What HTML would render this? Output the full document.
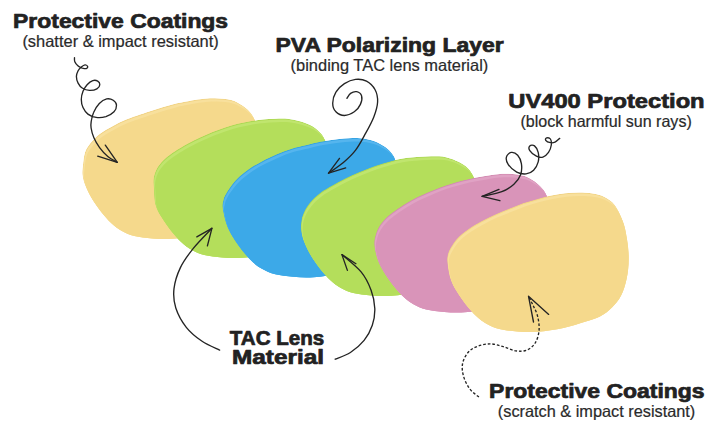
<!DOCTYPE html>
<html><head><meta charset="utf-8"><title>Lens layers</title>
<style>
html,body{margin:0;padding:0;background:#fff;}
body{width:720px;height:428px;overflow:hidden;position:relative;font-family:"Liberation Sans",sans-serif;}
svg{position:absolute;left:0;top:0;}
text{font-family:"Liberation Sans",sans-serif;}
.h{font-weight:bold;fill:#222;stroke:#222;stroke-width:0.7px;stroke-linejoin:round;}
.s{font-weight:normal;fill:#2a2a2a;stroke:#2a2a2a;stroke-width:0.2px;}
.a{fill:none;stroke:#242424;stroke-width:1.35;stroke-linecap:round;stroke-linejoin:round;}
.d{stroke-dasharray:2.7 1.9;stroke-linecap:butt;}
</style></head><body>
<svg width="720" height="428" viewBox="0 0 720 428">
<g id="lenses">
<defs><clipPath id="c0"><path d="M82.5,175.0 C82.1,171.5 82.6,168.8 83.0,165.0 C83.4,161.2 83.8,156.0 85.0,152.5 C86.2,149.0 87.5,146.9 90.0,143.8 C92.5,140.7 96.2,136.7 100.0,133.8 C103.8,130.9 108.3,128.6 112.5,126.3 C116.7,124.0 118.8,122.5 125.0,120.0 C131.2,117.5 141.7,114.0 150.0,111.3 C158.3,108.6 166.7,105.8 175.0,103.8 C183.3,101.8 193.3,100.1 200.0,99.2 C206.7,98.3 209.8,98.1 215.0,98.2 C220.2,98.3 226.6,98.8 231.2,100.0 C235.8,101.2 239.1,103.4 242.4,105.6 C245.7,107.8 248.7,110.5 250.8,113.0 C252.9,115.5 253.9,118.0 255.1,120.5 C256.3,123.0 256.6,123.8 257.8,128.1 C258.9,132.4 261.0,139.9 262.0,146.2 C263.0,152.5 263.8,159.3 263.7,165.9 C263.7,172.4 263.0,179.4 261.7,185.5 C260.4,191.6 258.6,197.7 256.1,202.5 C253.7,207.3 250.5,211.0 247.0,214.5 C243.5,218.0 239.5,221.1 235.0,223.5 C230.5,225.9 226.1,226.9 220.0,228.8 C213.9,230.7 206.3,233.3 198.4,235.0 C190.5,236.7 180.4,238.2 172.7,238.8 C165.0,239.4 158.6,238.9 152.2,238.4 C145.8,237.9 139.3,237.2 134.2,235.9 C129.1,234.6 125.2,232.8 121.4,230.7 C117.5,228.5 114.5,226.2 111.1,223.0 C107.7,219.8 104.0,215.6 100.8,211.5 C97.6,207.4 94.4,202.9 91.8,198.6 C89.2,194.3 86.9,189.7 85.4,185.8 C83.8,181.9 82.9,178.5 82.5,175.0Z"/></clipPath><clipPath id="c1"><path d="M153.8,187.5 C153.5,182.9 153.2,180.8 153.8,177.5 C154.4,174.2 155.6,170.6 157.5,167.5 C159.4,164.4 162.1,161.5 165.0,158.8 C167.9,156.1 171.2,153.8 175.0,151.3 C178.8,148.8 183.3,146.1 187.5,143.8 C191.7,141.5 195.8,139.5 200.0,137.5 C204.2,135.5 208.3,133.7 212.5,132.0 C216.7,130.3 220.8,128.9 225.0,127.5 C229.2,126.1 233.3,124.8 237.5,123.8 C241.7,122.8 245.8,122.0 250.0,121.3 C254.2,120.6 258.3,119.9 262.5,119.5 C266.7,119.1 270.8,118.9 275.0,118.8 C279.2,118.7 283.3,118.4 287.5,118.8 C291.7,119.2 295.8,120.0 300.0,121.3 C304.2,122.5 308.9,124.2 312.5,126.3 C316.1,128.4 319.2,131.5 321.3,133.8 C323.4,136.1 323.9,137.8 325.0,140.0 C326.1,142.2 326.6,142.9 327.8,147.1 C329.0,151.3 331.0,158.9 332.0,165.2 C333.0,171.5 333.8,178.3 333.7,184.9 C333.7,191.4 333.0,198.4 331.7,204.5 C330.4,210.6 328.6,216.7 326.1,221.5 C323.7,226.3 320.5,230.0 317.0,233.5 C313.5,237.0 309.5,240.1 305.0,242.5 C300.5,244.9 296.1,245.9 290.0,247.8 C283.9,249.7 276.3,252.3 268.4,254.0 C260.5,255.7 250.4,257.2 242.7,257.8 C235.0,258.4 228.6,257.9 222.2,257.4 C215.8,256.9 209.3,256.2 204.2,254.9 C199.1,253.6 195.2,251.8 191.4,249.7 C187.5,247.5 184.5,245.2 181.1,242.0 C177.7,238.8 174.0,234.6 170.8,230.5 C167.6,226.4 164.4,221.9 161.8,217.6 C159.2,213.3 156.7,209.8 155.4,204.8 C154.1,199.8 154.1,192.1 153.8,187.5Z"/></clipPath><clipPath id="c2"><path d="M222.6,208.0 C222.1,204.1 222.8,203.0 223.2,201.0 C223.6,199.0 223.8,198.0 224.8,196.0 C225.8,194.0 226.9,191.8 229.0,188.9 C231.1,186.0 234.1,181.9 237.4,178.6 C240.7,175.3 244.6,172.2 248.6,169.3 C252.6,166.4 257.0,163.9 261.7,161.4 C266.4,158.9 271.7,156.4 276.7,154.3 C281.7,152.2 286.6,150.2 291.6,148.7 C296.6,147.1 301.6,146.2 306.6,145.0 C311.6,143.8 316.8,142.5 321.5,141.6 C326.2,140.7 329.8,140.1 335.0,139.5 C340.2,138.9 347.5,138.1 352.5,138.0 C357.5,137.9 360.8,138.1 365.0,138.8 C369.2,139.6 373.8,140.8 377.5,142.5 C381.2,144.2 384.8,146.5 387.5,148.8 C390.2,151.1 392.5,154.2 393.8,156.3 C395.1,158.4 394.7,159.6 395.5,161.3 C396.3,163.0 397.5,162.6 398.8,166.5 C400.0,170.4 402.0,178.3 403.0,184.6 C404.0,190.9 404.8,197.7 404.7,204.3 C404.7,210.8 404.0,217.8 402.7,223.9 C401.4,230.0 399.6,236.1 397.1,240.9 C394.7,245.7 391.5,249.4 388.0,252.9 C384.5,256.4 380.5,259.5 376.0,261.9 C371.5,264.3 367.1,265.3 361.0,267.2 C354.9,269.1 347.3,271.7 339.4,273.4 C331.5,275.1 321.4,276.6 313.7,277.2 C306.0,277.8 299.6,277.3 293.2,276.8 C286.8,276.3 280.3,275.6 275.2,274.3 C270.1,273.0 266.2,271.2 262.4,269.1 C258.5,266.9 255.5,264.6 252.1,261.4 C248.7,258.2 245.0,254.0 241.8,249.9 C238.6,245.8 235.4,241.3 232.8,237.0 C230.2,232.7 228.1,229.0 226.4,224.2 C224.7,219.4 223.1,211.9 222.6,208.0Z"/></clipPath><clipPath id="c3"><path d="M301.3,232.0 C300.8,228.4 300.9,224.6 301.3,221.3 C301.7,218.1 302.4,215.6 303.8,212.5 C305.2,209.4 307.3,205.8 310.0,202.5 C312.7,199.2 316.2,195.9 320.0,193.0 C323.8,190.1 328.3,187.7 332.5,185.3 C336.7,182.9 340.8,180.6 345.0,178.5 C349.2,176.4 353.3,174.6 357.5,172.8 C361.7,171.0 365.8,169.3 370.0,167.8 C374.2,166.3 378.3,164.9 382.5,163.6 C386.7,162.3 390.8,161.0 395.0,160.0 C399.2,159.0 403.3,158.3 407.5,157.8 C411.7,157.3 415.8,157.1 420.0,156.8 C424.2,156.6 428.2,156.2 432.5,156.3 C436.8,156.4 441.6,156.2 446.0,157.2 C450.4,158.1 455.3,160.2 459.0,162.0 C462.7,163.8 465.8,166.1 468.0,168.2 C470.2,170.3 471.0,171.7 472.5,174.5 C474.0,177.3 475.4,180.3 476.8,185.1 C478.2,189.9 480.0,196.9 481.0,203.2 C482.0,209.5 482.8,216.3 482.7,222.9 C482.7,229.4 482.0,236.4 480.7,242.5 C479.4,248.6 477.6,254.7 475.1,259.5 C472.7,264.3 469.5,268.0 466.0,271.5 C462.5,275.0 458.5,278.1 454.0,280.5 C449.5,282.9 445.1,283.9 439.0,285.8 C432.9,287.7 425.3,290.3 417.4,292.0 C409.5,293.7 399.4,295.2 391.7,295.8 C384.0,296.4 377.6,295.9 371.2,295.4 C364.8,294.9 358.3,294.2 353.2,292.9 C348.1,291.6 344.2,289.8 340.4,287.7 C336.5,285.6 333.5,283.2 330.1,280.0 C326.7,276.8 323.0,272.6 319.8,268.5 C316.6,264.4 313.4,259.9 310.8,255.6 C308.2,251.3 306.0,246.7 304.4,242.8 C302.8,238.9 301.8,235.6 301.3,232.0Z"/></clipPath><clipPath id="c4"><path d="M374.3,245.0 C374.0,241.1 374.5,239.1 375.3,236.0 C376.1,232.9 377.3,229.6 379.0,226.7 C380.7,223.8 383.0,221.0 385.6,218.3 C388.2,215.7 391.5,213.3 394.9,210.8 C398.3,208.3 402.4,205.6 406.1,203.3 C409.8,201.0 413.6,199.0 417.3,197.1 C421.1,195.2 424.9,193.7 428.6,192.1 C432.4,190.5 436.1,188.8 439.8,187.4 C443.5,186.0 447.3,184.8 451.0,183.7 C454.7,182.5 458.5,181.4 462.2,180.5 C465.9,179.6 469.6,178.8 473.4,178.1 C477.2,177.3 480.9,176.7 485.0,176.0 C489.1,175.3 494.1,174.6 497.8,174.2 C501.6,173.8 504.2,173.7 507.5,173.8 C510.8,173.9 514.0,174.1 517.3,174.6 C520.5,175.1 523.8,175.7 527.0,177.1 C530.2,178.5 534.0,180.8 536.7,182.9 C539.5,185.0 541.9,187.6 543.5,189.7 C545.1,191.8 545.5,193.2 546.5,195.2 C547.5,197.2 548.5,197.5 549.8,201.6 C551.0,205.7 553.0,213.4 554.0,219.7 C555.0,226.0 555.8,232.8 555.7,239.4 C555.7,245.9 555.0,252.9 553.7,259.0 C552.4,265.1 550.6,271.2 548.1,276.0 C545.6,280.8 542.5,284.5 539.0,288.0 C535.5,291.5 531.5,294.6 527.0,297.0 C522.5,299.4 518.1,300.4 512.0,302.3 C505.9,304.2 498.3,306.8 490.4,308.5 C482.5,310.2 472.4,311.7 464.7,312.3 C457.0,312.9 450.6,312.4 444.2,311.9 C437.8,311.4 431.3,310.7 426.2,309.4 C421.1,308.1 417.2,306.3 413.4,304.2 C409.5,302.1 406.5,299.7 403.1,296.5 C399.7,293.3 396.0,289.1 392.8,285.0 C389.6,280.9 386.4,276.4 383.8,272.1 C381.2,267.8 379.0,263.8 377.4,259.3 C375.8,254.8 374.6,248.9 374.3,245.0Z"/></clipPath><clipPath id="c5"><path d="M447.3,262.0 C446.9,257.7 447.4,255.8 448.2,253.0 C449.0,250.2 450.4,248.1 452.0,245.5 C453.6,242.9 455.4,240.2 458.0,237.5 C460.6,234.8 463.9,232.1 467.8,229.4 C471.8,226.7 477.1,223.6 481.7,221.1 C486.3,218.6 491.0,216.3 495.6,214.2 C500.2,212.1 504.8,210.4 509.4,208.6 C514.0,206.8 518.7,204.7 523.3,203.1 C527.9,201.5 532.6,200.2 537.2,198.9 C541.8,197.7 546.5,196.5 551.1,195.6 C555.7,194.7 560.4,193.8 565.0,193.3 C569.6,192.8 574.3,192.6 578.9,192.6 C583.5,192.6 588.6,192.9 592.8,193.6 C597.0,194.3 600.4,194.9 604.0,196.8 C607.6,198.7 611.5,200.8 614.6,204.8 C617.7,208.9 620.7,215.4 622.8,221.1 C624.9,226.8 626.0,232.9 627.0,239.2 C628.0,245.5 628.8,252.3 628.7,258.9 C628.7,265.4 628.0,272.4 626.7,278.5 C625.4,284.6 623.6,290.7 621.1,295.5 C618.6,300.3 615.5,304.0 612.0,307.5 C608.5,311.0 604.5,314.1 600.0,316.5 C595.5,318.9 591.1,319.9 585.0,321.8 C578.9,323.7 571.3,326.3 563.4,328.0 C555.5,329.7 545.4,331.2 537.7,331.8 C530.0,332.4 523.6,331.9 517.2,331.4 C510.8,330.9 504.3,330.2 499.2,328.9 C494.1,327.6 490.2,325.8 486.4,323.7 C482.5,321.6 479.5,319.2 476.1,316.0 C472.7,312.8 469.0,308.6 465.8,304.5 C462.6,300.4 459.4,295.9 456.8,291.6 C454.2,287.3 452.0,283.7 450.4,278.8 C448.8,273.9 447.7,266.3 447.3,262.0Z"/></clipPath></defs>
<g clip-path="url(#c0)"><path d="M82.5,175.0 C82.1,171.5 82.6,168.8 83.0,165.0 C83.4,161.2 83.8,156.0 85.0,152.5 C86.2,149.0 87.5,146.9 90.0,143.8 C92.5,140.7 96.2,136.7 100.0,133.8 C103.8,130.9 108.3,128.6 112.5,126.3 C116.7,124.0 118.8,122.5 125.0,120.0 C131.2,117.5 141.7,114.0 150.0,111.3 C158.3,108.6 166.7,105.8 175.0,103.8 C183.3,101.8 193.3,100.1 200.0,99.2 C206.7,98.3 209.8,98.1 215.0,98.2 C220.2,98.3 226.6,98.8 231.2,100.0 C235.8,101.2 239.1,103.4 242.4,105.6 C245.7,107.8 248.7,110.5 250.8,113.0 C252.9,115.5 253.9,118.0 255.1,120.5 C256.3,123.0 256.6,123.8 257.8,128.1 C258.9,132.4 261.0,139.9 262.0,146.2 C263.0,152.5 263.8,159.3 263.7,165.9 C263.7,172.4 263.0,179.4 261.7,185.5 C260.4,191.6 258.6,197.7 256.1,202.5 C253.7,207.3 250.5,211.0 247.0,214.5 C243.5,218.0 239.5,221.1 235.0,223.5 C230.5,225.9 226.1,226.9 220.0,228.8 C213.9,230.7 206.3,233.3 198.4,235.0 C190.5,236.7 180.4,238.2 172.7,238.8 C165.0,239.4 158.6,238.9 152.2,238.4 C145.8,237.9 139.3,237.2 134.2,235.9 C129.1,234.6 125.2,232.8 121.4,230.7 C117.5,228.5 114.5,226.2 111.1,223.0 C107.7,219.8 104.0,215.6 100.8,211.5 C97.6,207.4 94.4,202.9 91.8,198.6 C89.2,194.3 86.9,189.7 85.4,185.8 C83.8,181.9 82.9,178.5 82.5,175.0Z" fill="#F1D385"/><path d="M82.5,175.0 C82.1,171.5 82.6,168.8 83.0,165.0 C83.4,161.2 83.8,156.0 85.0,152.5 C86.2,149.0 87.5,146.9 90.0,143.8 C92.5,140.7 96.2,136.7 100.0,133.8 C103.8,130.9 108.3,128.6 112.5,126.3 C116.7,124.0 118.8,122.5 125.0,120.0 C131.2,117.5 141.7,114.0 150.0,111.3 C158.3,108.6 166.7,105.8 175.0,103.8 C183.3,101.8 193.3,100.1 200.0,99.2 C206.7,98.3 209.8,98.1 215.0,98.2 C220.2,98.3 226.6,98.8 231.2,100.0 C235.8,101.2 239.1,103.4 242.4,105.6 C245.7,107.8 248.7,110.5 250.8,113.0 C252.9,115.5 253.9,118.0 255.1,120.5 C256.3,123.0 256.6,123.8 257.8,128.1 C258.9,132.4 261.0,139.9 262.0,146.2 C263.0,152.5 263.8,159.3 263.7,165.9 C263.7,172.4 263.0,179.4 261.7,185.5 C260.4,191.6 258.6,197.7 256.1,202.5 C253.7,207.3 250.5,211.0 247.0,214.5 C243.5,218.0 239.5,221.1 235.0,223.5 C230.5,225.9 226.1,226.9 220.0,228.8 C213.9,230.7 206.3,233.3 198.4,235.0 C190.5,236.7 180.4,238.2 172.7,238.8 C165.0,239.4 158.6,238.9 152.2,238.4 C145.8,237.9 139.3,237.2 134.2,235.9 C129.1,234.6 125.2,232.8 121.4,230.7 C117.5,228.5 114.5,226.2 111.1,223.0 C107.7,219.8 104.0,215.6 100.8,211.5 C97.6,207.4 94.4,202.9 91.8,198.6 C89.2,194.3 86.9,189.7 85.4,185.8 C83.8,181.9 82.9,178.5 82.5,175.0Z" fill="#F8E09C" transform="translate(0.5,1.0)"/><path d="M82.5,175.0 C82.1,171.5 82.6,168.8 83.0,165.0 C83.4,161.2 83.8,156.0 85.0,152.5 C86.2,149.0 87.5,146.9 90.0,143.8 C92.5,140.7 96.2,136.7 100.0,133.8 C103.8,130.9 108.3,128.6 112.5,126.3 C116.7,124.0 118.8,122.5 125.0,120.0 C131.2,117.5 141.7,114.0 150.0,111.3 C158.3,108.6 166.7,105.8 175.0,103.8 C183.3,101.8 193.3,100.1 200.0,99.2 C206.7,98.3 209.8,98.1 215.0,98.2 C220.2,98.3 226.6,98.8 231.2,100.0 C235.8,101.2 239.1,103.4 242.4,105.6 C245.7,107.8 248.7,110.5 250.8,113.0 C252.9,115.5 253.9,118.0 255.1,120.5 C256.3,123.0 256.6,123.8 257.8,128.1 C258.9,132.4 261.0,139.9 262.0,146.2 C263.0,152.5 263.8,159.3 263.7,165.9 C263.7,172.4 263.0,179.4 261.7,185.5 C260.4,191.6 258.6,197.7 256.1,202.5 C253.7,207.3 250.5,211.0 247.0,214.5 C243.5,218.0 239.5,221.1 235.0,223.5 C230.5,225.9 226.1,226.9 220.0,228.8 C213.9,230.7 206.3,233.3 198.4,235.0 C190.5,236.7 180.4,238.2 172.7,238.8 C165.0,239.4 158.6,238.9 152.2,238.4 C145.8,237.9 139.3,237.2 134.2,235.9 C129.1,234.6 125.2,232.8 121.4,230.7 C117.5,228.5 114.5,226.2 111.1,223.0 C107.7,219.8 104.0,215.6 100.8,211.5 C97.6,207.4 94.4,202.9 91.8,198.6 C89.2,194.3 86.9,189.7 85.4,185.8 C83.8,181.9 82.9,178.5 82.5,175.0Z" fill="#F5D98C" transform="translate(1.6,3.4)"/></g>
<g clip-path="url(#c1)"><path d="M153.8,187.5 C153.5,182.9 153.2,180.8 153.8,177.5 C154.4,174.2 155.6,170.6 157.5,167.5 C159.4,164.4 162.1,161.5 165.0,158.8 C167.9,156.1 171.2,153.8 175.0,151.3 C178.8,148.8 183.3,146.1 187.5,143.8 C191.7,141.5 195.8,139.5 200.0,137.5 C204.2,135.5 208.3,133.7 212.5,132.0 C216.7,130.3 220.8,128.9 225.0,127.5 C229.2,126.1 233.3,124.8 237.5,123.8 C241.7,122.8 245.8,122.0 250.0,121.3 C254.2,120.6 258.3,119.9 262.5,119.5 C266.7,119.1 270.8,118.9 275.0,118.8 C279.2,118.7 283.3,118.4 287.5,118.8 C291.7,119.2 295.8,120.0 300.0,121.3 C304.2,122.5 308.9,124.2 312.5,126.3 C316.1,128.4 319.2,131.5 321.3,133.8 C323.4,136.1 323.9,137.8 325.0,140.0 C326.1,142.2 326.6,142.9 327.8,147.1 C329.0,151.3 331.0,158.9 332.0,165.2 C333.0,171.5 333.8,178.3 333.7,184.9 C333.7,191.4 333.0,198.4 331.7,204.5 C330.4,210.6 328.6,216.7 326.1,221.5 C323.7,226.3 320.5,230.0 317.0,233.5 C313.5,237.0 309.5,240.1 305.0,242.5 C300.5,244.9 296.1,245.9 290.0,247.8 C283.9,249.7 276.3,252.3 268.4,254.0 C260.5,255.7 250.4,257.2 242.7,257.8 C235.0,258.4 228.6,257.9 222.2,257.4 C215.8,256.9 209.3,256.2 204.2,254.9 C199.1,253.6 195.2,251.8 191.4,249.7 C187.5,247.5 184.5,245.2 181.1,242.0 C177.7,238.8 174.0,234.6 170.8,230.5 C167.6,226.4 164.4,221.9 161.8,217.6 C159.2,213.3 156.7,209.8 155.4,204.8 C154.1,199.8 154.1,192.1 153.8,187.5Z" fill="#ACD854"/><path d="M153.8,187.5 C153.5,182.9 153.2,180.8 153.8,177.5 C154.4,174.2 155.6,170.6 157.5,167.5 C159.4,164.4 162.1,161.5 165.0,158.8 C167.9,156.1 171.2,153.8 175.0,151.3 C178.8,148.8 183.3,146.1 187.5,143.8 C191.7,141.5 195.8,139.5 200.0,137.5 C204.2,135.5 208.3,133.7 212.5,132.0 C216.7,130.3 220.8,128.9 225.0,127.5 C229.2,126.1 233.3,124.8 237.5,123.8 C241.7,122.8 245.8,122.0 250.0,121.3 C254.2,120.6 258.3,119.9 262.5,119.5 C266.7,119.1 270.8,118.9 275.0,118.8 C279.2,118.7 283.3,118.4 287.5,118.8 C291.7,119.2 295.8,120.0 300.0,121.3 C304.2,122.5 308.9,124.2 312.5,126.3 C316.1,128.4 319.2,131.5 321.3,133.8 C323.4,136.1 323.9,137.8 325.0,140.0 C326.1,142.2 326.6,142.9 327.8,147.1 C329.0,151.3 331.0,158.9 332.0,165.2 C333.0,171.5 333.8,178.3 333.7,184.9 C333.7,191.4 333.0,198.4 331.7,204.5 C330.4,210.6 328.6,216.7 326.1,221.5 C323.7,226.3 320.5,230.0 317.0,233.5 C313.5,237.0 309.5,240.1 305.0,242.5 C300.5,244.9 296.1,245.9 290.0,247.8 C283.9,249.7 276.3,252.3 268.4,254.0 C260.5,255.7 250.4,257.2 242.7,257.8 C235.0,258.4 228.6,257.9 222.2,257.4 C215.8,256.9 209.3,256.2 204.2,254.9 C199.1,253.6 195.2,251.8 191.4,249.7 C187.5,247.5 184.5,245.2 181.1,242.0 C177.7,238.8 174.0,234.6 170.8,230.5 C167.6,226.4 164.4,221.9 161.8,217.6 C159.2,213.3 156.7,209.8 155.4,204.8 C154.1,199.8 154.1,192.1 153.8,187.5Z" fill="#C0E56E" transform="translate(0.5,1.0)"/><path d="M153.8,187.5 C153.5,182.9 153.2,180.8 153.8,177.5 C154.4,174.2 155.6,170.6 157.5,167.5 C159.4,164.4 162.1,161.5 165.0,158.8 C167.9,156.1 171.2,153.8 175.0,151.3 C178.8,148.8 183.3,146.1 187.5,143.8 C191.7,141.5 195.8,139.5 200.0,137.5 C204.2,135.5 208.3,133.7 212.5,132.0 C216.7,130.3 220.8,128.9 225.0,127.5 C229.2,126.1 233.3,124.8 237.5,123.8 C241.7,122.8 245.8,122.0 250.0,121.3 C254.2,120.6 258.3,119.9 262.5,119.5 C266.7,119.1 270.8,118.9 275.0,118.8 C279.2,118.7 283.3,118.4 287.5,118.8 C291.7,119.2 295.8,120.0 300.0,121.3 C304.2,122.5 308.9,124.2 312.5,126.3 C316.1,128.4 319.2,131.5 321.3,133.8 C323.4,136.1 323.9,137.8 325.0,140.0 C326.1,142.2 326.6,142.9 327.8,147.1 C329.0,151.3 331.0,158.9 332.0,165.2 C333.0,171.5 333.8,178.3 333.7,184.9 C333.7,191.4 333.0,198.4 331.7,204.5 C330.4,210.6 328.6,216.7 326.1,221.5 C323.7,226.3 320.5,230.0 317.0,233.5 C313.5,237.0 309.5,240.1 305.0,242.5 C300.5,244.9 296.1,245.9 290.0,247.8 C283.9,249.7 276.3,252.3 268.4,254.0 C260.5,255.7 250.4,257.2 242.7,257.8 C235.0,258.4 228.6,257.9 222.2,257.4 C215.8,256.9 209.3,256.2 204.2,254.9 C199.1,253.6 195.2,251.8 191.4,249.7 C187.5,247.5 184.5,245.2 181.1,242.0 C177.7,238.8 174.0,234.6 170.8,230.5 C167.6,226.4 164.4,221.9 161.8,217.6 C159.2,213.3 156.7,209.8 155.4,204.8 C154.1,199.8 154.1,192.1 153.8,187.5Z" fill="#B4DE5B" transform="translate(1.6,3.4)"/></g>
<g clip-path="url(#c2)"><path d="M222.6,208.0 C222.1,204.1 222.8,203.0 223.2,201.0 C223.6,199.0 223.8,198.0 224.8,196.0 C225.8,194.0 226.9,191.8 229.0,188.9 C231.1,186.0 234.1,181.9 237.4,178.6 C240.7,175.3 244.6,172.2 248.6,169.3 C252.6,166.4 257.0,163.9 261.7,161.4 C266.4,158.9 271.7,156.4 276.7,154.3 C281.7,152.2 286.6,150.2 291.6,148.7 C296.6,147.1 301.6,146.2 306.6,145.0 C311.6,143.8 316.8,142.5 321.5,141.6 C326.2,140.7 329.8,140.1 335.0,139.5 C340.2,138.9 347.5,138.1 352.5,138.0 C357.5,137.9 360.8,138.1 365.0,138.8 C369.2,139.6 373.8,140.8 377.5,142.5 C381.2,144.2 384.8,146.5 387.5,148.8 C390.2,151.1 392.5,154.2 393.8,156.3 C395.1,158.4 394.7,159.6 395.5,161.3 C396.3,163.0 397.5,162.6 398.8,166.5 C400.0,170.4 402.0,178.3 403.0,184.6 C404.0,190.9 404.8,197.7 404.7,204.3 C404.7,210.8 404.0,217.8 402.7,223.9 C401.4,230.0 399.6,236.1 397.1,240.9 C394.7,245.7 391.5,249.4 388.0,252.9 C384.5,256.4 380.5,259.5 376.0,261.9 C371.5,264.3 367.1,265.3 361.0,267.2 C354.9,269.1 347.3,271.7 339.4,273.4 C331.5,275.1 321.4,276.6 313.7,277.2 C306.0,277.8 299.6,277.3 293.2,276.8 C286.8,276.3 280.3,275.6 275.2,274.3 C270.1,273.0 266.2,271.2 262.4,269.1 C258.5,266.9 255.5,264.6 252.1,261.4 C248.7,258.2 245.0,254.0 241.8,249.9 C238.6,245.8 235.4,241.3 232.8,237.0 C230.2,232.7 228.1,229.0 226.4,224.2 C224.7,219.4 223.1,211.9 222.6,208.0Z" fill="#36A3E3"/><path d="M222.6,208.0 C222.1,204.1 222.8,203.0 223.2,201.0 C223.6,199.0 223.8,198.0 224.8,196.0 C225.8,194.0 226.9,191.8 229.0,188.9 C231.1,186.0 234.1,181.9 237.4,178.6 C240.7,175.3 244.6,172.2 248.6,169.3 C252.6,166.4 257.0,163.9 261.7,161.4 C266.4,158.9 271.7,156.4 276.7,154.3 C281.7,152.2 286.6,150.2 291.6,148.7 C296.6,147.1 301.6,146.2 306.6,145.0 C311.6,143.8 316.8,142.5 321.5,141.6 C326.2,140.7 329.8,140.1 335.0,139.5 C340.2,138.9 347.5,138.1 352.5,138.0 C357.5,137.9 360.8,138.1 365.0,138.8 C369.2,139.6 373.8,140.8 377.5,142.5 C381.2,144.2 384.8,146.5 387.5,148.8 C390.2,151.1 392.5,154.2 393.8,156.3 C395.1,158.4 394.7,159.6 395.5,161.3 C396.3,163.0 397.5,162.6 398.8,166.5 C400.0,170.4 402.0,178.3 403.0,184.6 C404.0,190.9 404.8,197.7 404.7,204.3 C404.7,210.8 404.0,217.8 402.7,223.9 C401.4,230.0 399.6,236.1 397.1,240.9 C394.7,245.7 391.5,249.4 388.0,252.9 C384.5,256.4 380.5,259.5 376.0,261.9 C371.5,264.3 367.1,265.3 361.0,267.2 C354.9,269.1 347.3,271.7 339.4,273.4 C331.5,275.1 321.4,276.6 313.7,277.2 C306.0,277.8 299.6,277.3 293.2,276.8 C286.8,276.3 280.3,275.6 275.2,274.3 C270.1,273.0 266.2,271.2 262.4,269.1 C258.5,266.9 255.5,264.6 252.1,261.4 C248.7,258.2 245.0,254.0 241.8,249.9 C238.6,245.8 235.4,241.3 232.8,237.0 C230.2,232.7 228.1,229.0 226.4,224.2 C224.7,219.4 223.1,211.9 222.6,208.0Z" fill="#55B5EE" transform="translate(0.5,1.0)"/><path d="M222.6,208.0 C222.1,204.1 222.8,203.0 223.2,201.0 C223.6,199.0 223.8,198.0 224.8,196.0 C225.8,194.0 226.9,191.8 229.0,188.9 C231.1,186.0 234.1,181.9 237.4,178.6 C240.7,175.3 244.6,172.2 248.6,169.3 C252.6,166.4 257.0,163.9 261.7,161.4 C266.4,158.9 271.7,156.4 276.7,154.3 C281.7,152.2 286.6,150.2 291.6,148.7 C296.6,147.1 301.6,146.2 306.6,145.0 C311.6,143.8 316.8,142.5 321.5,141.6 C326.2,140.7 329.8,140.1 335.0,139.5 C340.2,138.9 347.5,138.1 352.5,138.0 C357.5,137.9 360.8,138.1 365.0,138.8 C369.2,139.6 373.8,140.8 377.5,142.5 C381.2,144.2 384.8,146.5 387.5,148.8 C390.2,151.1 392.5,154.2 393.8,156.3 C395.1,158.4 394.7,159.6 395.5,161.3 C396.3,163.0 397.5,162.6 398.8,166.5 C400.0,170.4 402.0,178.3 403.0,184.6 C404.0,190.9 404.8,197.7 404.7,204.3 C404.7,210.8 404.0,217.8 402.7,223.9 C401.4,230.0 399.6,236.1 397.1,240.9 C394.7,245.7 391.5,249.4 388.0,252.9 C384.5,256.4 380.5,259.5 376.0,261.9 C371.5,264.3 367.1,265.3 361.0,267.2 C354.9,269.1 347.3,271.7 339.4,273.4 C331.5,275.1 321.4,276.6 313.7,277.2 C306.0,277.8 299.6,277.3 293.2,276.8 C286.8,276.3 280.3,275.6 275.2,274.3 C270.1,273.0 266.2,271.2 262.4,269.1 C258.5,266.9 255.5,264.6 252.1,261.4 C248.7,258.2 245.0,254.0 241.8,249.9 C238.6,245.8 235.4,241.3 232.8,237.0 C230.2,232.7 228.1,229.0 226.4,224.2 C224.7,219.4 223.1,211.9 222.6,208.0Z" fill="#3CA9E8" transform="translate(1.6,3.4)"/></g>
<g clip-path="url(#c3)"><path d="M301.3,232.0 C300.8,228.4 300.9,224.6 301.3,221.3 C301.7,218.1 302.4,215.6 303.8,212.5 C305.2,209.4 307.3,205.8 310.0,202.5 C312.7,199.2 316.2,195.9 320.0,193.0 C323.8,190.1 328.3,187.7 332.5,185.3 C336.7,182.9 340.8,180.6 345.0,178.5 C349.2,176.4 353.3,174.6 357.5,172.8 C361.7,171.0 365.8,169.3 370.0,167.8 C374.2,166.3 378.3,164.9 382.5,163.6 C386.7,162.3 390.8,161.0 395.0,160.0 C399.2,159.0 403.3,158.3 407.5,157.8 C411.7,157.3 415.8,157.1 420.0,156.8 C424.2,156.6 428.2,156.2 432.5,156.3 C436.8,156.4 441.6,156.2 446.0,157.2 C450.4,158.1 455.3,160.2 459.0,162.0 C462.7,163.8 465.8,166.1 468.0,168.2 C470.2,170.3 471.0,171.7 472.5,174.5 C474.0,177.3 475.4,180.3 476.8,185.1 C478.2,189.9 480.0,196.9 481.0,203.2 C482.0,209.5 482.8,216.3 482.7,222.9 C482.7,229.4 482.0,236.4 480.7,242.5 C479.4,248.6 477.6,254.7 475.1,259.5 C472.7,264.3 469.5,268.0 466.0,271.5 C462.5,275.0 458.5,278.1 454.0,280.5 C449.5,282.9 445.1,283.9 439.0,285.8 C432.9,287.7 425.3,290.3 417.4,292.0 C409.5,293.7 399.4,295.2 391.7,295.8 C384.0,296.4 377.6,295.9 371.2,295.4 C364.8,294.9 358.3,294.2 353.2,292.9 C348.1,291.6 344.2,289.8 340.4,287.7 C336.5,285.6 333.5,283.2 330.1,280.0 C326.7,276.8 323.0,272.6 319.8,268.5 C316.6,264.4 313.4,259.9 310.8,255.6 C308.2,251.3 306.0,246.7 304.4,242.8 C302.8,238.9 301.8,235.6 301.3,232.0Z" fill="#ACD854"/><path d="M301.3,232.0 C300.8,228.4 300.9,224.6 301.3,221.3 C301.7,218.1 302.4,215.6 303.8,212.5 C305.2,209.4 307.3,205.8 310.0,202.5 C312.7,199.2 316.2,195.9 320.0,193.0 C323.8,190.1 328.3,187.7 332.5,185.3 C336.7,182.9 340.8,180.6 345.0,178.5 C349.2,176.4 353.3,174.6 357.5,172.8 C361.7,171.0 365.8,169.3 370.0,167.8 C374.2,166.3 378.3,164.9 382.5,163.6 C386.7,162.3 390.8,161.0 395.0,160.0 C399.2,159.0 403.3,158.3 407.5,157.8 C411.7,157.3 415.8,157.1 420.0,156.8 C424.2,156.6 428.2,156.2 432.5,156.3 C436.8,156.4 441.6,156.2 446.0,157.2 C450.4,158.1 455.3,160.2 459.0,162.0 C462.7,163.8 465.8,166.1 468.0,168.2 C470.2,170.3 471.0,171.7 472.5,174.5 C474.0,177.3 475.4,180.3 476.8,185.1 C478.2,189.9 480.0,196.9 481.0,203.2 C482.0,209.5 482.8,216.3 482.7,222.9 C482.7,229.4 482.0,236.4 480.7,242.5 C479.4,248.6 477.6,254.7 475.1,259.5 C472.7,264.3 469.5,268.0 466.0,271.5 C462.5,275.0 458.5,278.1 454.0,280.5 C449.5,282.9 445.1,283.9 439.0,285.8 C432.9,287.7 425.3,290.3 417.4,292.0 C409.5,293.7 399.4,295.2 391.7,295.8 C384.0,296.4 377.6,295.9 371.2,295.4 C364.8,294.9 358.3,294.2 353.2,292.9 C348.1,291.6 344.2,289.8 340.4,287.7 C336.5,285.6 333.5,283.2 330.1,280.0 C326.7,276.8 323.0,272.6 319.8,268.5 C316.6,264.4 313.4,259.9 310.8,255.6 C308.2,251.3 306.0,246.7 304.4,242.8 C302.8,238.9 301.8,235.6 301.3,232.0Z" fill="#C0E56E" transform="translate(0.5,1.0)"/><path d="M301.3,232.0 C300.8,228.4 300.9,224.6 301.3,221.3 C301.7,218.1 302.4,215.6 303.8,212.5 C305.2,209.4 307.3,205.8 310.0,202.5 C312.7,199.2 316.2,195.9 320.0,193.0 C323.8,190.1 328.3,187.7 332.5,185.3 C336.7,182.9 340.8,180.6 345.0,178.5 C349.2,176.4 353.3,174.6 357.5,172.8 C361.7,171.0 365.8,169.3 370.0,167.8 C374.2,166.3 378.3,164.9 382.5,163.6 C386.7,162.3 390.8,161.0 395.0,160.0 C399.2,159.0 403.3,158.3 407.5,157.8 C411.7,157.3 415.8,157.1 420.0,156.8 C424.2,156.6 428.2,156.2 432.5,156.3 C436.8,156.4 441.6,156.2 446.0,157.2 C450.4,158.1 455.3,160.2 459.0,162.0 C462.7,163.8 465.8,166.1 468.0,168.2 C470.2,170.3 471.0,171.7 472.5,174.5 C474.0,177.3 475.4,180.3 476.8,185.1 C478.2,189.9 480.0,196.9 481.0,203.2 C482.0,209.5 482.8,216.3 482.7,222.9 C482.7,229.4 482.0,236.4 480.7,242.5 C479.4,248.6 477.6,254.7 475.1,259.5 C472.7,264.3 469.5,268.0 466.0,271.5 C462.5,275.0 458.5,278.1 454.0,280.5 C449.5,282.9 445.1,283.9 439.0,285.8 C432.9,287.7 425.3,290.3 417.4,292.0 C409.5,293.7 399.4,295.2 391.7,295.8 C384.0,296.4 377.6,295.9 371.2,295.4 C364.8,294.9 358.3,294.2 353.2,292.9 C348.1,291.6 344.2,289.8 340.4,287.7 C336.5,285.6 333.5,283.2 330.1,280.0 C326.7,276.8 323.0,272.6 319.8,268.5 C316.6,264.4 313.4,259.9 310.8,255.6 C308.2,251.3 306.0,246.7 304.4,242.8 C302.8,238.9 301.8,235.6 301.3,232.0Z" fill="#B4DE5B" transform="translate(1.6,3.4)"/></g>
<g clip-path="url(#c4)"><path d="M374.3,245.0 C374.0,241.1 374.5,239.1 375.3,236.0 C376.1,232.9 377.3,229.6 379.0,226.7 C380.7,223.8 383.0,221.0 385.6,218.3 C388.2,215.7 391.5,213.3 394.9,210.8 C398.3,208.3 402.4,205.6 406.1,203.3 C409.8,201.0 413.6,199.0 417.3,197.1 C421.1,195.2 424.9,193.7 428.6,192.1 C432.4,190.5 436.1,188.8 439.8,187.4 C443.5,186.0 447.3,184.8 451.0,183.7 C454.7,182.5 458.5,181.4 462.2,180.5 C465.9,179.6 469.6,178.8 473.4,178.1 C477.2,177.3 480.9,176.7 485.0,176.0 C489.1,175.3 494.1,174.6 497.8,174.2 C501.6,173.8 504.2,173.7 507.5,173.8 C510.8,173.9 514.0,174.1 517.3,174.6 C520.5,175.1 523.8,175.7 527.0,177.1 C530.2,178.5 534.0,180.8 536.7,182.9 C539.5,185.0 541.9,187.6 543.5,189.7 C545.1,191.8 545.5,193.2 546.5,195.2 C547.5,197.2 548.5,197.5 549.8,201.6 C551.0,205.7 553.0,213.4 554.0,219.7 C555.0,226.0 555.8,232.8 555.7,239.4 C555.7,245.9 555.0,252.9 553.7,259.0 C552.4,265.1 550.6,271.2 548.1,276.0 C545.6,280.8 542.5,284.5 539.0,288.0 C535.5,291.5 531.5,294.6 527.0,297.0 C522.5,299.4 518.1,300.4 512.0,302.3 C505.9,304.2 498.3,306.8 490.4,308.5 C482.5,310.2 472.4,311.7 464.7,312.3 C457.0,312.9 450.6,312.4 444.2,311.9 C437.8,311.4 431.3,310.7 426.2,309.4 C421.1,308.1 417.2,306.3 413.4,304.2 C409.5,302.1 406.5,299.7 403.1,296.5 C399.7,293.3 396.0,289.1 392.8,285.0 C389.6,280.9 386.4,276.4 383.8,272.1 C381.2,267.8 379.0,263.8 377.4,259.3 C375.8,254.8 374.6,248.9 374.3,245.0Z" fill="#D38CB2"/><path d="M374.3,245.0 C374.0,241.1 374.5,239.1 375.3,236.0 C376.1,232.9 377.3,229.6 379.0,226.7 C380.7,223.8 383.0,221.0 385.6,218.3 C388.2,215.7 391.5,213.3 394.9,210.8 C398.3,208.3 402.4,205.6 406.1,203.3 C409.8,201.0 413.6,199.0 417.3,197.1 C421.1,195.2 424.9,193.7 428.6,192.1 C432.4,190.5 436.1,188.8 439.8,187.4 C443.5,186.0 447.3,184.8 451.0,183.7 C454.7,182.5 458.5,181.4 462.2,180.5 C465.9,179.6 469.6,178.8 473.4,178.1 C477.2,177.3 480.9,176.7 485.0,176.0 C489.1,175.3 494.1,174.6 497.8,174.2 C501.6,173.8 504.2,173.7 507.5,173.8 C510.8,173.9 514.0,174.1 517.3,174.6 C520.5,175.1 523.8,175.7 527.0,177.1 C530.2,178.5 534.0,180.8 536.7,182.9 C539.5,185.0 541.9,187.6 543.5,189.7 C545.1,191.8 545.5,193.2 546.5,195.2 C547.5,197.2 548.5,197.5 549.8,201.6 C551.0,205.7 553.0,213.4 554.0,219.7 C555.0,226.0 555.8,232.8 555.7,239.4 C555.7,245.9 555.0,252.9 553.7,259.0 C552.4,265.1 550.6,271.2 548.1,276.0 C545.6,280.8 542.5,284.5 539.0,288.0 C535.5,291.5 531.5,294.6 527.0,297.0 C522.5,299.4 518.1,300.4 512.0,302.3 C505.9,304.2 498.3,306.8 490.4,308.5 C482.5,310.2 472.4,311.7 464.7,312.3 C457.0,312.9 450.6,312.4 444.2,311.9 C437.8,311.4 431.3,310.7 426.2,309.4 C421.1,308.1 417.2,306.3 413.4,304.2 C409.5,302.1 406.5,299.7 403.1,296.5 C399.7,293.3 396.0,289.1 392.8,285.0 C389.6,280.9 386.4,276.4 383.8,272.1 C381.2,267.8 379.0,263.8 377.4,259.3 C375.8,254.8 374.6,248.9 374.3,245.0Z" fill="#E0A2C4" transform="translate(0.5,1.0)"/><path d="M374.3,245.0 C374.0,241.1 374.5,239.1 375.3,236.0 C376.1,232.9 377.3,229.6 379.0,226.7 C380.7,223.8 383.0,221.0 385.6,218.3 C388.2,215.7 391.5,213.3 394.9,210.8 C398.3,208.3 402.4,205.6 406.1,203.3 C409.8,201.0 413.6,199.0 417.3,197.1 C421.1,195.2 424.9,193.7 428.6,192.1 C432.4,190.5 436.1,188.8 439.8,187.4 C443.5,186.0 447.3,184.8 451.0,183.7 C454.7,182.5 458.5,181.4 462.2,180.5 C465.9,179.6 469.6,178.8 473.4,178.1 C477.2,177.3 480.9,176.7 485.0,176.0 C489.1,175.3 494.1,174.6 497.8,174.2 C501.6,173.8 504.2,173.7 507.5,173.8 C510.8,173.9 514.0,174.1 517.3,174.6 C520.5,175.1 523.8,175.7 527.0,177.1 C530.2,178.5 534.0,180.8 536.7,182.9 C539.5,185.0 541.9,187.6 543.5,189.7 C545.1,191.8 545.5,193.2 546.5,195.2 C547.5,197.2 548.5,197.5 549.8,201.6 C551.0,205.7 553.0,213.4 554.0,219.7 C555.0,226.0 555.8,232.8 555.7,239.4 C555.7,245.9 555.0,252.9 553.7,259.0 C552.4,265.1 550.6,271.2 548.1,276.0 C545.6,280.8 542.5,284.5 539.0,288.0 C535.5,291.5 531.5,294.6 527.0,297.0 C522.5,299.4 518.1,300.4 512.0,302.3 C505.9,304.2 498.3,306.8 490.4,308.5 C482.5,310.2 472.4,311.7 464.7,312.3 C457.0,312.9 450.6,312.4 444.2,311.9 C437.8,311.4 431.3,310.7 426.2,309.4 C421.1,308.1 417.2,306.3 413.4,304.2 C409.5,302.1 406.5,299.7 403.1,296.5 C399.7,293.3 396.0,289.1 392.8,285.0 C389.6,280.9 386.4,276.4 383.8,272.1 C381.2,267.8 379.0,263.8 377.4,259.3 C375.8,254.8 374.6,248.9 374.3,245.0Z" fill="#D994B9" transform="translate(1.6,3.4)"/></g>
<g clip-path="url(#c5)"><path d="M447.3,262.0 C446.9,257.7 447.4,255.8 448.2,253.0 C449.0,250.2 450.4,248.1 452.0,245.5 C453.6,242.9 455.4,240.2 458.0,237.5 C460.6,234.8 463.9,232.1 467.8,229.4 C471.8,226.7 477.1,223.6 481.7,221.1 C486.3,218.6 491.0,216.3 495.6,214.2 C500.2,212.1 504.8,210.4 509.4,208.6 C514.0,206.8 518.7,204.7 523.3,203.1 C527.9,201.5 532.6,200.2 537.2,198.9 C541.8,197.7 546.5,196.5 551.1,195.6 C555.7,194.7 560.4,193.8 565.0,193.3 C569.6,192.8 574.3,192.6 578.9,192.6 C583.5,192.6 588.6,192.9 592.8,193.6 C597.0,194.3 600.4,194.9 604.0,196.8 C607.6,198.7 611.5,200.8 614.6,204.8 C617.7,208.9 620.7,215.4 622.8,221.1 C624.9,226.8 626.0,232.9 627.0,239.2 C628.0,245.5 628.8,252.3 628.7,258.9 C628.7,265.4 628.0,272.4 626.7,278.5 C625.4,284.6 623.6,290.7 621.1,295.5 C618.6,300.3 615.5,304.0 612.0,307.5 C608.5,311.0 604.5,314.1 600.0,316.5 C595.5,318.9 591.1,319.9 585.0,321.8 C578.9,323.7 571.3,326.3 563.4,328.0 C555.5,329.7 545.4,331.2 537.7,331.8 C530.0,332.4 523.6,331.9 517.2,331.4 C510.8,330.9 504.3,330.2 499.2,328.9 C494.1,327.6 490.2,325.8 486.4,323.7 C482.5,321.6 479.5,319.2 476.1,316.0 C472.7,312.8 469.0,308.6 465.8,304.5 C462.6,300.4 459.4,295.9 456.8,291.6 C454.2,287.3 452.0,283.7 450.4,278.8 C448.8,273.9 447.7,266.3 447.3,262.0Z" fill="#F1D385"/><path d="M447.3,262.0 C446.9,257.7 447.4,255.8 448.2,253.0 C449.0,250.2 450.4,248.1 452.0,245.5 C453.6,242.9 455.4,240.2 458.0,237.5 C460.6,234.8 463.9,232.1 467.8,229.4 C471.8,226.7 477.1,223.6 481.7,221.1 C486.3,218.6 491.0,216.3 495.6,214.2 C500.2,212.1 504.8,210.4 509.4,208.6 C514.0,206.8 518.7,204.7 523.3,203.1 C527.9,201.5 532.6,200.2 537.2,198.9 C541.8,197.7 546.5,196.5 551.1,195.6 C555.7,194.7 560.4,193.8 565.0,193.3 C569.6,192.8 574.3,192.6 578.9,192.6 C583.5,192.6 588.6,192.9 592.8,193.6 C597.0,194.3 600.4,194.9 604.0,196.8 C607.6,198.7 611.5,200.8 614.6,204.8 C617.7,208.9 620.7,215.4 622.8,221.1 C624.9,226.8 626.0,232.9 627.0,239.2 C628.0,245.5 628.8,252.3 628.7,258.9 C628.7,265.4 628.0,272.4 626.7,278.5 C625.4,284.6 623.6,290.7 621.1,295.5 C618.6,300.3 615.5,304.0 612.0,307.5 C608.5,311.0 604.5,314.1 600.0,316.5 C595.5,318.9 591.1,319.9 585.0,321.8 C578.9,323.7 571.3,326.3 563.4,328.0 C555.5,329.7 545.4,331.2 537.7,331.8 C530.0,332.4 523.6,331.9 517.2,331.4 C510.8,330.9 504.3,330.2 499.2,328.9 C494.1,327.6 490.2,325.8 486.4,323.7 C482.5,321.6 479.5,319.2 476.1,316.0 C472.7,312.8 469.0,308.6 465.8,304.5 C462.6,300.4 459.4,295.9 456.8,291.6 C454.2,287.3 452.0,283.7 450.4,278.8 C448.8,273.9 447.7,266.3 447.3,262.0Z" fill="#F8E09C" transform="translate(0.5,1.0)"/><path d="M447.3,262.0 C446.9,257.7 447.4,255.8 448.2,253.0 C449.0,250.2 450.4,248.1 452.0,245.5 C453.6,242.9 455.4,240.2 458.0,237.5 C460.6,234.8 463.9,232.1 467.8,229.4 C471.8,226.7 477.1,223.6 481.7,221.1 C486.3,218.6 491.0,216.3 495.6,214.2 C500.2,212.1 504.8,210.4 509.4,208.6 C514.0,206.8 518.7,204.7 523.3,203.1 C527.9,201.5 532.6,200.2 537.2,198.9 C541.8,197.7 546.5,196.5 551.1,195.6 C555.7,194.7 560.4,193.8 565.0,193.3 C569.6,192.8 574.3,192.6 578.9,192.6 C583.5,192.6 588.6,192.9 592.8,193.6 C597.0,194.3 600.4,194.9 604.0,196.8 C607.6,198.7 611.5,200.8 614.6,204.8 C617.7,208.9 620.7,215.4 622.8,221.1 C624.9,226.8 626.0,232.9 627.0,239.2 C628.0,245.5 628.8,252.3 628.7,258.9 C628.7,265.4 628.0,272.4 626.7,278.5 C625.4,284.6 623.6,290.7 621.1,295.5 C618.6,300.3 615.5,304.0 612.0,307.5 C608.5,311.0 604.5,314.1 600.0,316.5 C595.5,318.9 591.1,319.9 585.0,321.8 C578.9,323.7 571.3,326.3 563.4,328.0 C555.5,329.7 545.4,331.2 537.7,331.8 C530.0,332.4 523.6,331.9 517.2,331.4 C510.8,330.9 504.3,330.2 499.2,328.9 C494.1,327.6 490.2,325.8 486.4,323.7 C482.5,321.6 479.5,319.2 476.1,316.0 C472.7,312.8 469.0,308.6 465.8,304.5 C462.6,300.4 459.4,295.9 456.8,291.6 C454.2,287.3 452.0,283.7 450.4,278.8 C448.8,273.9 447.7,266.3 447.3,262.0Z" fill="#F5D98C" transform="translate(1.6,3.4)"/></g>
</g>
<g id="arrows">
<path class="a" d="M74.5,57.7 C74.5,58.4 74.2,60.4 74.8,61.8 C75.4,63.2 76.8,64.9 78.1,65.9 C79.4,67.0 81.0,67.6 82.4,68.1 C83.8,68.5 85.4,68.8 86.3,68.6 C87.2,68.3 87.9,67.2 87.7,66.6 C87.5,66.0 86.1,64.8 85.0,64.9 C83.9,65.0 82.5,66.0 81.3,67.0 C80.1,68.0 78.9,69.2 78.1,70.8 C77.3,72.4 76.4,74.5 76.4,76.5 C76.4,78.5 77.1,81.2 78.1,83.1 C79.1,85.0 80.3,86.8 82.2,88.0 C84.1,89.2 87.0,90.3 89.5,90.4 C92.0,90.5 95.2,89.8 96.9,88.8 C98.6,87.8 99.7,86.0 99.8,84.7 C99.9,83.4 98.9,81.8 97.7,81.1 C96.5,80.4 94.6,80.0 92.8,80.6 C91.0,81.2 88.7,82.9 87.1,84.7 C85.5,86.5 84.0,88.8 83.0,91.2 C82.0,93.7 81.3,96.7 81.3,99.4 C81.3,102.1 81.9,105.1 83.0,107.6 C84.1,110.0 85.7,112.5 87.9,114.1 C90.1,115.7 93.1,117.0 96.1,117.4 C99.1,117.8 102.9,117.5 105.9,116.6 C108.9,115.6 112.2,113.6 114.0,111.7 C115.8,109.8 116.6,107.0 116.5,105.1 C116.4,103.2 114.8,101.2 113.2,100.2 C111.6,99.2 109.0,98.4 106.7,98.9 C104.4,99.5 101.5,101.2 99.3,103.5 C97.1,105.8 94.9,109.5 93.6,112.5 C92.2,115.5 91.6,118.9 91.2,121.5 C90.8,124.1 90.6,125.3 91.1,128.0 C91.5,130.7 92.5,134.5 93.9,137.8 C95.3,141.1 97.3,144.5 99.6,147.6 C101.9,150.7 104.8,154.1 107.8,156.6 C110.8,159.1 115.7,161.4 117.3,162.3"/>
<path class="a" d="M97.7,156.1 L117.3,162.3 L105.3,145.1"/>
<path class="a" d="M346.9,98.3 C347.5,97.5 349.0,94.5 350.6,93.4 C352.2,92.3 354.9,91.3 356.7,91.7 C358.5,92.1 361.0,93.8 361.6,95.9 C362.2,98.0 361.6,101.8 360.4,104.4 C359.2,107.1 357.0,110.0 354.3,111.8 C351.6,113.6 347.5,115.5 344.4,115.5 C341.3,115.5 337.8,113.8 335.9,111.8 C333.9,109.8 332.7,106.5 332.7,103.2 C332.7,99.9 333.9,95.5 335.9,92.2 C337.8,88.9 341.1,85.7 344.4,83.6 C347.7,81.5 351.8,79.8 355.5,79.4 C359.2,79.0 363.2,79.4 366.5,81.1 C369.8,82.8 373.2,86.2 375.1,89.7 C377.0,93.2 377.8,97.5 377.6,102.0 C377.4,106.5 375.9,111.5 373.9,116.7 C371.9,121.9 368.8,127.6 365.7,133.2 C362.6,138.8 359.3,145.3 355.6,150.2 C351.9,155.1 347.9,158.7 343.4,162.5 C338.9,166.3 331.0,171.4 328.5,173.2"/>
<path class="a" d="M339.5,158.4 L328.5,173.2 L345.7,167.9"/>
<path class="a" d="M559.7,138.4 C558.9,139.0 556.5,141.4 555.0,142.1 C553.5,142.8 551.9,143.0 550.4,142.7 C548.9,142.4 546.3,141.1 545.7,140.3 C545.1,139.5 545.8,138.1 546.6,137.9 C547.4,137.7 549.6,137.8 550.4,139.0 C551.2,140.2 551.6,142.8 551.3,145.0 C551.0,147.2 549.9,150.4 548.5,152.4 C547.1,154.4 544.9,156.5 542.9,157.1 C540.9,157.7 538.6,157.3 536.4,156.2 C534.2,155.1 530.9,152.3 529.8,150.6 C528.7,148.9 529.0,146.7 529.8,145.9 C530.6,145.1 533.1,144.8 534.5,145.9 C535.9,147.0 537.6,149.8 538.2,152.4 C538.8,155.1 539.0,158.8 538.2,161.8 C537.4,164.8 535.6,168.2 533.6,170.2 C531.6,172.2 528.9,173.6 526.1,173.9 C523.3,174.2 519.7,173.7 516.7,172.1 C513.7,170.5 510.0,167.1 508.3,164.6 C506.6,162.1 505.9,159.1 506.4,157.1 C506.9,155.1 509.2,152.7 511.1,152.4 C513.0,152.1 516.0,153.3 517.7,155.2 C519.4,157.1 520.9,160.3 521.4,163.6 C521.9,166.9 521.8,171.5 520.5,174.9 C519.2,178.3 517.0,181.4 513.9,184.2 C510.8,187.0 507.1,189.7 501.8,191.7 C496.5,193.7 485.4,195.6 482.1,196.4"/>
<path class="a" d="M499.0,189.4 L482.1,196.4 L499.9,200.7"/>
<path class="a" d="M219.6,350.1 C216.7,348.6 207.6,345.1 202.1,341.3 C196.6,337.5 190.7,332.9 186.3,327.3 C181.9,321.8 177.9,314.4 175.8,308.0 C173.8,301.6 173.2,295.4 174.0,288.7 C174.8,282.0 177.2,274.3 180.4,267.6 C183.6,260.9 188.1,254.9 193.3,248.3 C198.6,241.8 208.8,231.6 211.9,228.3"/>
<path class="a" d="M196.8,236.8 L211.9,228.3 L207.4,245.9"/>
<path class="a" d="M335.2,359.2 C337.7,358.1 345.6,355.6 350.4,352.5 C355.2,349.4 360.5,344.9 364.1,340.4 C367.8,335.8 370.5,330.5 372.3,325.2 C374.1,319.9 375.0,314.2 374.8,308.4 C374.6,302.6 373.4,296.3 371.1,290.2 C368.8,284.1 366.0,277.8 361.1,271.9 C356.2,266.0 345.1,257.5 341.9,254.6"/>
<path class="a" d="M355.9,263.7 L341.9,254.6 L347.4,270.4"/>
<path class="a d" d="M478.9,397.1 C477.3,395.7 472.2,392.2 469.6,388.7 C467.0,385.2 464.7,380.3 463.5,376.1 C462.3,371.9 461.8,367.5 462.6,363.5 C463.4,359.5 465.6,355.2 468.2,352.3 C470.8,349.4 474.2,347.5 478.0,346.1 C481.8,344.7 486.5,343.8 490.7,343.9 C494.9,344.0 499.1,345.5 503.3,346.7 C507.5,347.9 511.9,350.3 515.9,350.9 C519.9,351.4 523.8,351.4 527.1,350.0 C530.4,348.6 533.5,345.9 535.5,342.5 C537.5,339.1 538.8,334.3 539.1,329.9 C539.4,325.4 538.6,320.0 537.5,315.8 C536.4,311.6 534.2,307.9 532.7,304.6 C531.2,301.3 529.2,297.6 528.5,296.2"/>
<path class="a" d="M548.7,314.4 L528.5,296.2 L533.5,322.0"/>
</g>
<g id="labels">
<text class="h" x="13.1" y="28.1" font-size="20" textLength="215.0" lengthAdjust="spacingAndGlyphs">Protective Coatings</text>
<text class="s" x="22.4" y="47.2" font-size="16.5" textLength="196.4" lengthAdjust="spacingAndGlyphs">(shatter &amp; impact resistant)</text>
<text class="h" x="275.5" y="51.9" font-size="20" textLength="228.2" lengthAdjust="spacingAndGlyphs">PVA Polarizing Layer</text>
<text class="s" x="290.6" y="71.0" font-size="16.5" textLength="197.7" lengthAdjust="spacingAndGlyphs">(binding TAC lens material)</text>
<text class="h" x="508.3" y="107.9" font-size="20" textLength="196.3" lengthAdjust="spacingAndGlyphs">UV400 Protection</text>
<text class="s" x="520.4" y="127.2" font-size="16.5" textLength="171.4" lengthAdjust="spacingAndGlyphs">(block harmful sun rays)</text>
<text class="h" x="229.8" y="344.9" font-size="19.5" textLength="94.4" lengthAdjust="spacingAndGlyphs">TAC Lens</text>
<text class="h" x="232.0" y="363.8" font-size="19.5" textLength="92.0" lengthAdjust="spacingAndGlyphs">Material</text>
<text class="h" x="489.1" y="397.9" font-size="20" textLength="215.5" lengthAdjust="spacingAndGlyphs">Protective Coatings</text>
<text class="s" x="497.8" y="417.0" font-size="16.5" textLength="197.5" lengthAdjust="spacingAndGlyphs">(scratch &amp; impact resistant)</text>
</g>
</svg>
</body></html>
